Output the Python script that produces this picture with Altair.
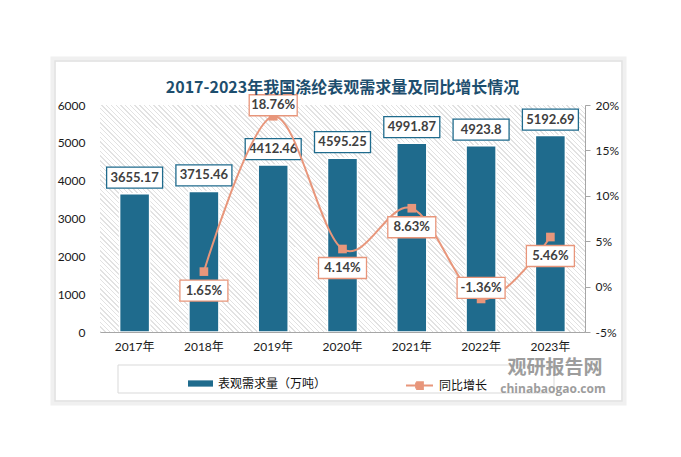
import altair as alt
import pandas as pd

# ---------------- data ----------------
years = ["2017年", "2018年", "2019年", "2020年", "2021年", "2022年", "2023年"]
demand = [3655.17, 3715.46, 4412.46, 4595.25, 4991.87, 4923.8, 5192.69]
growth_years = ["2018年", "2019年", "2020年", "2021年", "2022年", "2023年"]
growth = [1.65, 18.76, 4.14, 8.63, -1.36, 5.46]
growth_side = ["below", "above", "below", "below", "above", "below"]
left_ticks = [0, 1000, 2000, 3000, 4000, 5000, 6000]
right_ticks = [-5, 0, 5, 10, 15, 20]
bar_series = "表观需求量（万吨）"
line_series = "同比增长"
title_text = "2017-2023年我国涤纶表观需求量及同比增长情况"

# ---------------- styles ----------------
TEAL = "#1f6b8d"
SALMON = "#e8967b"
LABEL_C = "#404040"
HATCH = "#e2e2e2"
CJK = "Noto Sans CJK SC"
LAT = "Lato, 'Noto Sans CJK SC', sans-serif"
W, H = 485, 227

bar_df = pd.DataFrame({
    "year": years,
    "demand": demand,
    "label": [f"{v:g}" for v in demand],
    "series": [bar_series] * len(years),
})
line_df = pd.DataFrame({
    "year": growth_years,
    "growth": growth,
    "label": [f"{v:.2f}%" for v in growth],
    "side": growth_side,
    "series": [line_series] * len(growth),
})
one = pd.DataFrame({"k": [0]})

x_enc = alt.X(
    "year:N", sort=years,
    scale=alt.Scale(domain=years, paddingInner=0.567, paddingOuter=0.283),
    axis=alt.Axis(title=None, labelAngle=0, ticks=False, tickSize=0,
                  domainColor="#a6a6a6", domainWidth=1, labelPadding=9,
                  labelFont=LAT, labelFontSize=12, labelColor="#1a1a1a",
                  grid=False, zindex=1),
)
y_left = alt.Y(
    "demand:Q",
    scale=alt.Scale(domain=[0, 6000], nice=False),
    axis=alt.Axis(title=None, values=left_ticks, format="d", domain=False, ticks=False,
                  tickSize=0, grid=False, labelPadding=15, labelFont=LAT,
                  labelFontSize=12, labelColor="#1a1a1a", zindex=1),
)
y_right = alt.Y(
    "growth:Q",
    scale=alt.Scale(domain=[-5, 20], nice=False, zero=False),
    axis=alt.Axis(orient="right", title=None, values=right_ticks,
                  labelExpr="datum.value + '%'", domainColor="#a6a6a6",
                  tickColor="#a6a6a6", tickSize=5, labelPadding=5, grid=False,
                  labelFont=LAT, labelFontSize=12, labelColor="#1a1a1a",
                  zindex=1),
)

# hatched plot background (diagonal stripes via a striped gradient)
stops = []
N, f = 150, 0.3
for k in range(N):
    a, b, c = k / N, (k + f) / N, (k + 1) / N
    stops += [
        {"offset": round(a, 6), "color": HATCH},
        {"offset": round(b, 6), "color": HATCH},
        {"offset": round(b, 6), "color": "#ffffff"},
        {"offset": min(1.0, round(c, 6)), "color": "#ffffff"},
    ]
hatch_fill = {"gradient": "linear", "x1": 0, "y1": 1, "x2": 1.204, "y2": 0.4364,
              "stops": stops}
hatch = alt.Chart(one).mark_rect(fill=hatch_fill).encode(
    x=alt.value(0), x2=alt.value("width"), y=alt.value(0), y2=alt.value("height"))

card_shadow = alt.Chart(one).mark_rect(fillOpacity=0, stroke="#f0f0f0", strokeWidth=5).encode(
    x=alt.value(-47), x2=alt.value(524), y=alt.value(-46), y2=alt.value(298))
card = alt.Chart(one).mark_rect(fillOpacity=0, stroke="#e2e2e2", strokeWidth=1.5).encode(
    x=alt.value(-45), x2=alt.value(522), y=alt.value(-44), y2=alt.value(296))

# ---------------- bars ----------------
BOX_BAR = "M-1,-0.375H1V0.375H-1Z"
BOX_PCT = "M-1,-0.4375H1V0.4375H-1Z"
LINE_SYM = ("M-1,0H1M-0.25,-0.25H0.25V-0.15H-0.25V-0.05H0.25V0.05H-0.25"
            "V0.15H0.25V0.25H-0.25")

bars = alt.Chart(bar_df).mark_bar(stroke="white", strokeWidth=1.5).encode(
    x=x_enc, y=y_left,
    fill=alt.Fill("series:N", scale=alt.Scale(domain=[bar_series], range=[TEAL]),
                  legend=alt.Legend(orient="none", legendX=88, legendY=266, title=None,
                                    symbolType="M-1,-0.25H1V0.25H-1Z", symbolSize=625,
                                    symbolStrokeWidth=0, labelFont=CJK, labelFontSize=12,
                                    labelColor="#111111", labelOffset=5, padding=0)),
)
bar_box = alt.Chart(bar_df).mark_point(
    shape=BOX_BAR, size=3136, filled=True, fill="white", stroke=TEAL,
    strokeWidth=1.3, opacity=1, yOffset=-16).encode(x=x_enc, y=y_left)
bar_txt = alt.Chart(bar_df).mark_text(
    font=LAT, fontSize=13, fontWeight="bold", color=LABEL_C, yOffset=-16,
    baseline="middle").encode(x=x_enc, y=y_left, text="label:N")
bar_group = alt.layer(bars, bar_box, bar_txt)

# ---------------- line ----------------
line = alt.Chart(line_df).mark_line(interpolate="cardinal", strokeWidth=2).encode(
    x=x_enc, y=y_right,
    stroke=alt.Stroke("series:N", scale=alt.Scale(domain=[line_series], range=[SALMON]),
                      legend=alt.Legend(orient="none", legendX=305, legendY=266, title=None,
                                        symbolType=LINE_SYM, symbolSize=729,
                                        symbolStrokeWidth=2, labelFont=CJK,
                                        labelFontSize=12, labelColor="#111111",
                                        labelOffset=5, padding=0)),
)
pts = alt.Chart(line_df).mark_point(shape="square", size=75, filled=True,
                                    fill=SALMON, opacity=1).encode(x=x_enc, y=y_right)

pct_layers = []
for side, off in [("above", -11), ("below", 19)]:
    base = alt.Chart(line_df).transform_filter(alt.datum.side == side)
    pct_layers.append(base.mark_point(
        shape=BOX_PCT, size=2304, filled=True, fill="white", stroke=SALMON,
        strokeWidth=1.3, opacity=1, yOffset=off).encode(x=x_enc, y=y_right))
    pct_layers.append(base.mark_text(
        font=LAT, fontSize=13, fontWeight="bold", color=LABEL_C, yOffset=off,
        baseline="middle").encode(x=x_enc, y=y_right, text="label:N"))
line_group = alt.layer(line, pts, *pct_layers)

# ---------------- decorations ----------------
legend_box = alt.Chart(one).mark_rect(fillOpacity=0, stroke="#d9d9d9", strokeWidth=1).encode(
    x=alt.value(18), x2=alt.value(454), y=alt.value(260), y2=alt.value(288))
wm1 = alt.Chart(one).mark_text(text="观研报告网", font=CJK, fontSize=19, fontWeight="bold",
                               color="#939393", opacity=0.9, align="center",
                               baseline="middle").encode(x=alt.value(455), y=alt.value(263))
wm2 = alt.Chart(one).mark_text(text="chinabaogao.com", font="Open Sans", fontSize=12,
                               fontWeight="bold", color="#939393", opacity=0.9,
                               align="center", baseline="middle").encode(
    x=alt.value(453), y=alt.value(284))

chart = alt.layer(
    card_shadow, card, hatch, bar_group, line_group, legend_box, wm1, wm2
).resolve_scale(y="independent").properties(
    width=W, height=H,
    padding={"left": 92, "top": 97, "right": 88, "bottom": 110},
    autosize=alt.AutoSizeParams(type="none"),
    title=alt.TitleParams(text=title_text, frame="group", anchor="middle", offset=-47,
                          baseline="middle", font=CJK, fontSize=16, fontWeight="bold",
                          color="#1d4e6e"),
).configure_view(stroke=None).configure(background="white")

chart.save("out.html", embed_options={"renderer": "svg", "actions": False})
